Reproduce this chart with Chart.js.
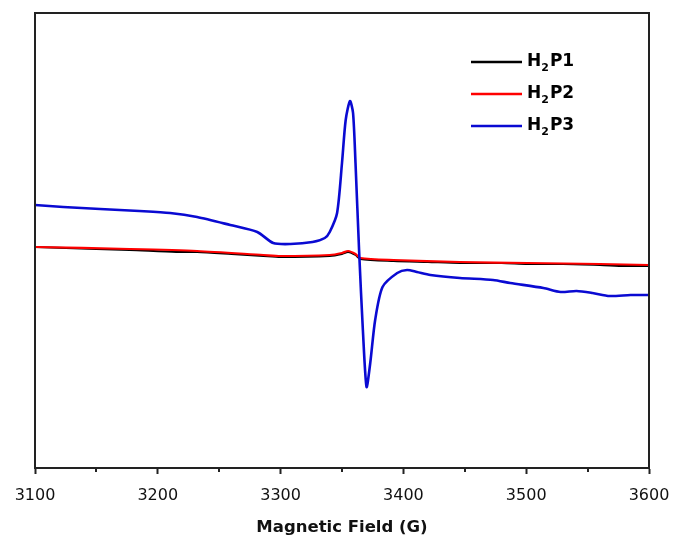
<!DOCTYPE html>
<html>
<head>
<meta charset="utf-8">
<script src="https://cdn.jsdelivr.net/npm/chart.js@4"></script>
<style>
  html, body { margin: 0; padding: 0; background: #fff; }
  #wrap { width: 673px; height: 536px; }
</style>
</head>
<body>
<div id="wrap"><canvas id="eprChart"></canvas></div>
<script>
// series names
var seriesNames = ['H\u2082P1', 'H\u2082P2', 'H\u2082P3'];
var seriesColors = ['#000000', '#ff0000', '#0a0ad2'];

// H2P1 (mostly hidden under H2P2)
var fieldP1 = [3100, 3150, 3177, 3215, 3232, 3260, 3286, 3300, 3340, 3350, 3355, 3361, 3365, 3392, 3420, 3446, 3480, 3501, 3530, 3560, 3580, 3600];
var signalP1 = [221, 219, 218, 216, 216, 214, 212, 211, 212, 214, 216, 213, 209, 207, 206, 205, 205, 204, 204, 203, 202, 202];

// H2P2
var fieldP2 = [3100, 3177, 3232, 3286, 3300, 3340, 3350, 3355, 3361, 3365, 3392, 3446, 3501, 3560, 3600];
var signalP2 = [221, 219, 217, 213, 212, 213, 215, 217, 214, 210, 208, 206, 205, 204, 203];

// H2P3
var fieldP3 = [3100, 3123, 3153, 3185, 3210, 3232, 3259, 3281, 3294, 3308, 3326, 3336, 3340, 3346, 3350, 3353, 3356.5, 3359, 3361, 3364, 3367, 3370, 3373, 3377, 3383, 3395, 3403, 3411, 3422, 3446, 3473, 3487, 3514, 3528, 3541, 3554, 3568, 3585, 3600];
var signalP3 = [263, 261, 259, 257, 255, 251, 243, 236, 225, 224, 226, 230, 236, 255, 305, 348, 367, 355, 305, 215, 138, 81, 105, 148, 181, 195, 198, 196, 193, 190, 188, 185, 180, 176, 177, 175, 172, 173, 173];

var xMin = 3100, xMax = 3600;
var minorTicks = [3150, 3250, 3350, 3450, 3550];

function pts(xs, ys) {
  return xs.map(function (x, i) { return { x: x, y: ys[i] }; });
}

var fontFamily = '"DejaVu Sans", sans-serif';
var frameColor = '#222222';

// frame, minor ticks and legend
var extras = {
  id: 'extras',
  afterDraw: function (chart) {
    var ctx = chart.ctx;
    var a = chart.chartArea;
    var xs = chart.scales.x;
    ctx.save();
    ctx.strokeStyle = frameColor;
    ctx.lineWidth = 2;
    ctx.strokeRect(a.left, a.top, a.right - a.left, a.bottom - a.top);

    minorTicks.forEach(function (v) {
      var px = Math.round(xs.getPixelForValue(v));
      ctx.beginPath();
      ctx.moveTo(px, a.bottom);
      ctx.lineTo(px, a.bottom + 4);
      ctx.stroke();
    });

    // legend
    var lx = 471, ly = 62, gap = 32;
    chart.data.datasets.forEach(function (ds, i) {
      var y = ly + i * gap;
      ctx.strokeStyle = ds.borderColor;
      ctx.lineWidth = 2.5;
      ctx.beginPath();
      ctx.moveTo(lx, y);
      ctx.lineTo(lx + 51, y);
      ctx.stroke();

      var parts = ds.label.split('\u2082');
      var tx = lx + 56;
      ctx.fillStyle = '#000';
      ctx.textBaseline = 'middle';
      ctx.font = 'bold 17px ' + fontFamily;
      ctx.fillText(parts[0], tx, y);
      tx += ctx.measureText(parts[0]).width;
      ctx.font = 'bold 11px ' + fontFamily;
      ctx.fillText('2', tx, y + 6);
      tx += ctx.measureText('2').width + 1;
      ctx.font = 'bold 17px ' + fontFamily;
      ctx.fillText(parts[1], tx, y);
    });
    ctx.restore();
  }
};

var ctx = document.getElementById('eprChart').getContext('2d');
var chart = new Chart(ctx, {
  type: 'line',
  data: {
    datasets: [
      { label: seriesNames[0], data: pts(fieldP1, signalP1), borderColor: seriesColors[0], borderWidth: 2, pointRadius: 0, tension: 0.25, order: 3 },
      { label: seriesNames[1], data: pts(fieldP2, signalP2), borderColor: seriesColors[1], borderWidth: 2.2, pointRadius: 0, tension: 0.25, order: 2 },
      { label: seriesNames[2], data: pts(fieldP3, signalP3), borderColor: seriesColors[2], borderWidth: 2.6, pointRadius: 0, tension: 0.25, order: 1 }
    ]
  },
  options: {
    responsive: true,
    maintainAspectRatio: false,
    animation: false,
    layout: { padding: { left: 35, top: 13, right: 24, bottom: -2 } },
    plugins: {
      legend: { display: false },
      tooltip: { enabled: false }
    },
    scales: {
      x: {
        type: 'linear',
        min: xMin,
        max: xMax,
        afterFit: function (scale) {
          // let the layout padding decide the side margins
          scale.paddingLeft = 0;
          scale.paddingRight = 0;
        },
        grid: { drawOnChartArea: false, tickLength: 6, tickColor: frameColor, tickWidth: 2 },
        border: { color: frameColor, width: 2 },
        ticks: {
          stepSize: 100,
          padding: 12,
          color: '#111',
          maxRotation: 0,
          font: { family: fontFamily, size: 16 },
          callback: function (v) { return String(v); }
        },
        title: {
          display: true,
          text: 'Magnetic Field (G)',
          color: '#111',
          padding: { top: 1, bottom: 0 },
          font: { family: fontFamily, size: 16.5, weight: 'bold' }
        }
      },
      y: {
        display: false,
        min: 0,
        max: 455
      }
    }
  },
  plugins: [extras]
});
</script>
</body>
</html>
